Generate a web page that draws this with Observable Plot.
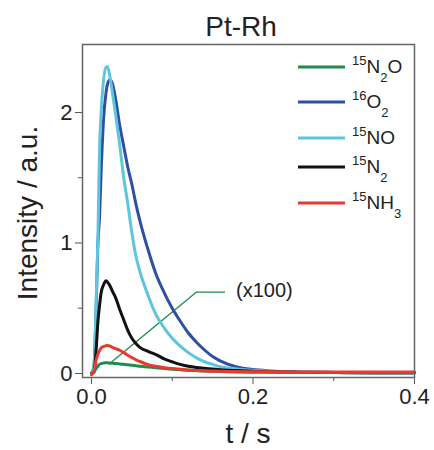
<!DOCTYPE html>
<html>
<head>
<meta charset="utf-8">
<script src="https://cdn.jsdelivr.net/npm/d3@7"></script>
<script src="https://cdn.jsdelivr.net/npm/@observablehq/plot@0.6"></script>
<style>
  html, body { margin: 0; padding: 0; background: #fff; }
  #chart { width: 434px; height: 450px; }
</style>
</head>
<body>
<div id="chart"></div>
<script>
// ---- Data ----
const title = "Pt-Rh";
const xLabel = "t / s";
const yLabel = "Intensity / a.u.";
const xTicks = [0, 0.2, 0.4];
const xMinorTicks = [0.1, 0.3];
const yTicks = [0, 1, 2];
const yMinorTicks = [0.5, 1.5];

const time = [0, 0.003, 0.006, 0.008, 0.01, 0.012, 0.015, 0.018, 0.02, 0.023, 0.026, 0.03, 0.035, 0.04, 0.045, 0.05, 0.055, 0.06, 0.07, 0.08, 0.09, 0.1, 0.11, 0.12, 0.13, 0.14, 0.15, 0.16, 0.18, 0.2, 0.22, 0.25, 0.3, 0.35, 0.4];

const o2_16  = [0, 0.05, 0.55, 1.0, 1.2, 1.55, 1.95, 2.15, 2.22, 2.25, 2.22, 2.1, 1.9, 1.74, 1.58, 1.45, 1.3, 1.17, 0.95, 0.76, 0.62, 0.5, 0.4, 0.31, 0.24, 0.18, 0.13, 0.095, 0.05, 0.03, 0.02, 0.012, 0.008, 0.006, 0.005];
const no_15  = [0, 0.05, 0.6, 1.05, 1.72, 2.0, 2.25, 2.35, 2.35, 2.27, 2.15, 1.98, 1.75, 1.5, 1.3, 1.08, 0.9, 0.78, 0.6, 0.45, 0.35, 0.27, 0.21, 0.16, 0.12, 0.09, 0.07, 0.052, 0.035, 0.025, 0.018, 0.012, 0.008, 0.006, 0.005];
const n2_15  = [0, 0.01, 0.2, 0.4, 0.52, 0.62, 0.68, 0.71, 0.7, 0.67, 0.63, 0.58, 0.49, 0.41, 0.33, 0.27, 0.23, 0.2, 0.17, 0.145, 0.112, 0.09, 0.07, 0.055, 0.046, 0.04, 0.034, 0.028, 0.022, 0.017, 0.014, 0.011, 0.008, 0.006, 0.005];
const n2o_15 = [0, 0.01, 0.04, 0.058, 0.07, 0.076, 0.08, 0.082, 0.082, 0.08, 0.078, 0.076, 0.073, 0.07, 0.067, 0.063, 0.06, 0.056, 0.05, 0.044, 0.038, 0.033, 0.029, 0.025, 0.022, 0.019, 0.017, 0.015, 0.012, 0.01, 0.009, 0.008, 0.007, 0.006, 0.006];
const nh3_15 = [-0.01, 0.02, 0.11, 0.15, 0.176, 0.195, 0.207, 0.213, 0.215, 0.21, 0.2, 0.19, 0.178, 0.16, 0.14, 0.122, 0.105, 0.092, 0.068, 0.055, 0.045, 0.038, 0.032, 0.027, 0.023, 0.02, 0.018, 0.017, 0.015, 0.014, 0.013, 0.012, 0.011, 0.011, 0.011];

// series: key, values, colour, legend parts
const seriesKeys   = ["N2O", "O2", "NO", "N2", "NH3"];
const seriesValues = [n2o_15, o2_16, no_15, n2_15, nh3_15];
const seriesColors = ["#1e8c4c", "#2f4fa3", "#5ec5dc", "#111111", "#e63b2e"];
const legendParts  = [
  [["sup","15"],["main","N"],["sub","2"],["main","O"]],
  [["sup","16"],["main","O"],["sub","2"]],
  [["sup","15"],["main","NO"]],
  [["sup","15"],["main","N"],["sub","2"]],
  [["sup","15"],["main","NH"],["sub","3"]]
];
const drawOrder = [1, 2, 3, 0, 4];

// annotation "(x100)" leader to the 15N2O curve
const annotText = "(x100)";
const annotT = [0.1647, 0.1297, 0.0223];
const annotY = [0.623, 0.623, 0.074];
const annotTextT = 0.179;
const annotTextY = 0.636;

// ---- Build table ----
const rows = [];
for (const i of drawOrder) {
  time.forEach((t, j) => rows.push({series: seriesKeys[i], t, v: seriesValues[i][j]}));
}
const annot = annotT.map((t, j) => ({t, v: annotY[j]}));

const W = 434, H = 450;
const FONT = "'Liberation Sans', Arial, Helvetica, sans-serif";
const fmt = d3.format(".1f");

const plot = Plot.plot({
  width: W,
  height: H,
  marginLeft: 82,
  marginRight: 20,
  marginTop: 44,
  marginBottom: 73,
  style: {fontFamily: FONT, color: "#222", background: "#fff"},
  x: {domain: [-0.0111, 0.4], label: null},
  y: {domain: [-0.0307, 2.521], label: null},
  marks: [
    Plot.line(annot, {x: "t", y: "v", stroke: "#1e8c4c", strokeWidth: 1.3}),
    Plot.text([{t: annotTextT, v: annotTextY}], {x: "t", y: "v", text: () => annotText, textAnchor: "start", fontSize: 20, fill: "#222"}),
    ...drawOrder.map(i => Plot.line(rows.filter(r => r.series === seriesKeys[i]), {
      x: "t", y: "v", stroke: seriesColors[i], strokeWidth: 3, curve: "monotone-x"
    })),
    Plot.axisX({ticks: xTicks, tickSize: 7, tickPadding: 4, fontSize: 22, tickFormat: fmt, label: null, stroke: "#555"}),
    Plot.axisX({ticks: xMinorTicks, tickSize: 4, tickFormat: () => "", label: null, stroke: "#555"}),
    Plot.axisY({ticks: yTicks, tickSize: 7, tickPadding: 3, fontSize: 22, tickFormat: d => String(d), label: null, stroke: "#555"}),
    Plot.axisY({ticks: yMinorTicks, tickSize: 4, tickFormat: () => "", label: null, stroke: "#555"}),
    Plot.frame({stroke: "#666", strokeWidth: 1.5})
  ]
});

const svg = d3.select(plot);
svg.attr("font-family", FONT);

// Title
svg.append("text").attr("x", 241).attr("y", 36).attr("text-anchor", "middle")
  .attr("font-size", 28).attr("fill", "#222").text(title);
// Axis labels
svg.append("text").attr("x", 248).attr("y", 443).attr("text-anchor", "middle")
  .attr("font-size", 28).attr("fill", "#222").text(xLabel);
svg.append("text").attr("transform", "translate(37,213) rotate(-90)").attr("text-anchor", "middle")
  .attr("font-size", 28).attr("fill", "#222").text(yLabel);

// Legend
const legendY = [67, 102, 138, 167, 203];
const lg = svg.append("g").attr("text-anchor", "start");
legendParts.forEach((parts, i) => {
  const y = legendY[i];
  lg.append("line").attr("x1", 298).attr("x2", 345).attr("y1", y).attr("y2", y)
    .attr("stroke", seriesColors[i]).attr("stroke-width", 3);
  const t = lg.append("text").attr("x", 352).attr("y", y + 6).attr("text-anchor", "start")
    .attr("font-size", 19).attr("fill", "#222");
  let shift = 0;
  parts.forEach(([kind, s]) => {
    const target = kind === "sup" ? -8 : kind === "sub" ? 9 : 0;
    const ts = t.append("tspan").attr("dy", target - shift).text(s);
    if (kind !== "main") ts.attr("font-size", 13);
    shift = target;
  });
});

document.getElementById("chart").appendChild(plot);
</script>
</body>
</html>
